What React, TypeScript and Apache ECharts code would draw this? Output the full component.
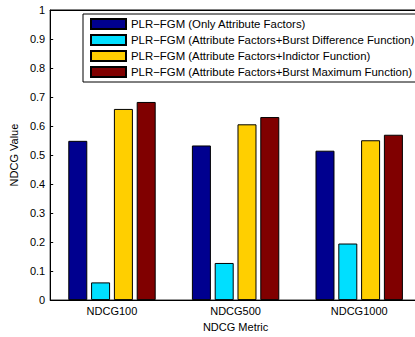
import React, { useEffect, useRef } from "react";
import * as echarts from "echarts";

const categories = ["NDCG100", "NDCG500", "NDCG1000"];
const seriesNames = [
  "PLR\u2212FGM (Only Attribute Factors)",
  "PLR\u2212FGM (Attribute Factors+Burst Difference Function)",
  "PLR\u2212FGM (Attribute Factors+Indictor Function)",
  "PLR\u2212FGM (Attribute Factors+Burst Maximum Function)",
];
const onlyAttr = [0.549, 0.533, 0.515];
const burstDiff = [0.061, 0.128, 0.195];
const indicator = [0.659, 0.606, 0.551];
const burstMax = [0.683, 0.631, 0.570];
const colors = ["#00008F", "#00DFFF", "#FFCF00", "#800000"];

export default function App() {
  const ref = useRef<HTMLDivElement>(null);
  useEffect(() => {
    document.body.style.margin = "0";
    document.body.style.overflow = "hidden";
    const chart = echarts.init(ref.current!, undefined, { renderer: "svg" });
    const font = "Liberation Sans, Arial, sans-serif";
    const data = [onlyAttr, burstDiff, indicator, burstMax];
    chart.setOption({
      animation: false,
      backgroundColor: "#ffffff",
      textStyle: { fontFamily: font },
      grid: {
        left: 49,
        top: 10,
        width: 372,
        height: 292,
        show: true,
        borderColor: "#000",
        borderWidth: 1,
        backgroundColor: "transparent",
      },
      legend: {
        orient: "vertical",
        left: 83,
        top: 14,
        padding: [4, 40, 4, 7],
        itemWidth: 35,
        itemHeight: 10,
        itemGap: 4,
        icon: "rect",
        borderColor: "#000",
        borderWidth: 1,
        backgroundColor: "#fff",
        textStyle: { fontSize: 11.4, color: "#000", fontFamily: font },
        data: seriesNames,
      },
      xAxis: [
        {
          type: "category",
          data: categories,
          position: "bottom",
          axisLine: { lineStyle: { color: "#000", width: 1 } },
          axisTick: { inside: true, alignWithLabel: true, length: 3, lineStyle: { color: "#000" } },
          axisLabel: { color: "#000", fontSize: 11, margin: 5, fontFamily: font },
          name: "NDCG Metric",
          nameLocation: "middle",
          nameGap: 18,
          nameTextStyle: { color: "#000", fontSize: 11, fontFamily: font },
        },
        {
          type: "category",
          data: categories,
          position: "top",
          axisLine: { show: true, lineStyle: { color: "#000", width: 1 } },
          axisTick: { inside: true, alignWithLabel: true, length: 3, lineStyle: { color: "#000" } },
          axisLabel: { show: false },
        },
      ],
      yAxis: {
        type: "value",
        min: 0,
        max: 1,
        interval: 0.1,
        axisLine: { show: true, lineStyle: { color: "#000", width: 1 } },
        axisTick: { show: true, inside: true, length: 3, lineStyle: { color: "#000" } },
        splitLine: { show: false },
        axisLabel: {
          color: "#000",
          fontSize: 11,
          margin: 5,
          fontFamily: font,
          formatter: (v: number) => String(Math.round(v * 10) / 10),
        },
        name: "NDCG Value",
        nameLocation: "middle",
        nameGap: 23,
        nameTextStyle: { color: "#000", fontSize: 11, fontFamily: font },
      },
      series: seriesNames.map((name, i) => ({
        name,
        type: "bar",
        xAxisIndex: 0,
        data: data[i],
        barWidth: 19,
        barGap: "20%",
        itemStyle: { color: colors[i], borderColor: "#000", borderWidth: 1 },
      })),
    });
    return () => chart.dispose();
  }, []);
  return (
    <div style={{ position: "fixed", left: 0, top: 0, width: 415, height: 337, overflow: "hidden" }}>
      <div ref={ref} style={{ width: 460, height: 337 }} />
    </div>
  );
}
